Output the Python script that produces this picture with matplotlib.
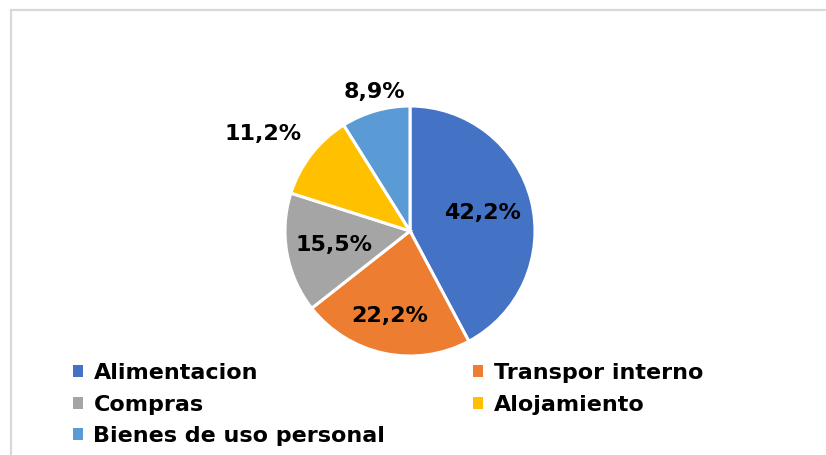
import matplotlib
matplotlib.use("Agg")
import matplotlib.pyplot as plt
from matplotlib.patches import Patch, Rectangle
import numpy as np

categories = ["Alimentacion", "Transpor interno", "Compras", "Alojamiento", "Bienes de uso personal"]
values = [42.2, 22.2, 15.5, 11.2, 8.9]
colors = ["#4472C4", "#ED7D31", "#A5A5A5", "#FFC000", "#5B9BD5"]
label_dist = [0.60, 0.70, 0.62, 1.41, 1.15]
label_ang_shift = [0, -1.5, 0, 4.4, -1.5]

W, H = 826, 455
fig = plt.figure(figsize=(W / 100, H / 100), dpi=100)
plt.rcParams['font.family'] = ['DejaVu Sans']

# chart border (left and top visible)
fig.patches.append(Rectangle((11 / W, -0.5), 2.0, (H - 10) / H + 0.5, transform=fig.transFigure,
                             fill=False, edgecolor="#d9d9d9", linewidth=1.6))

cx, cy, r = 410, 231, 125
ax = fig.add_axes([(cx - r) / W, (H - cy - r) / H, 2 * r / W, 2 * r / H])
wedges, _ = ax.pie(values, colors=colors, startangle=90, counterclock=False,
                   radius=1, wedgeprops=dict(edgecolor="white", linewidth=2.2))
ax.set_xlim(-1, 1)
ax.set_ylim(-1, 1)
ax.set_aspect("equal")
ax.axis("off")

for w, v, d, s in zip(wedges, values, label_dist, label_ang_shift):
    ang = np.deg2rad((w.theta1 + w.theta2) / 2 + s)
    ax.text(d * np.cos(ang), d * np.sin(ang), f"{v:.1f}%".replace(".", ","),
            ha="center", va="center", fontsize=16, fontweight="bold", color="black",
            clip_on=False)

order = [0, 2, 4, 1, 3]
handles = [Patch(facecolor=colors[i], edgecolor="none") for i in order]
labels = [categories[i] for i in order]
fig.legend(handles, labels, ncol=2, loc="upper left",
           bbox_to_anchor=(73 / W, 1 - 363 / H), frameon=False,
           prop=dict(size=16, weight="bold"), handlelength=0.45, handleheight=0.45,
           handletextpad=0.47, labelspacing=0.52, columnspacing=3.95, borderaxespad=0,
           borderpad=0)

fig.savefig("out.png", dpi=100)
